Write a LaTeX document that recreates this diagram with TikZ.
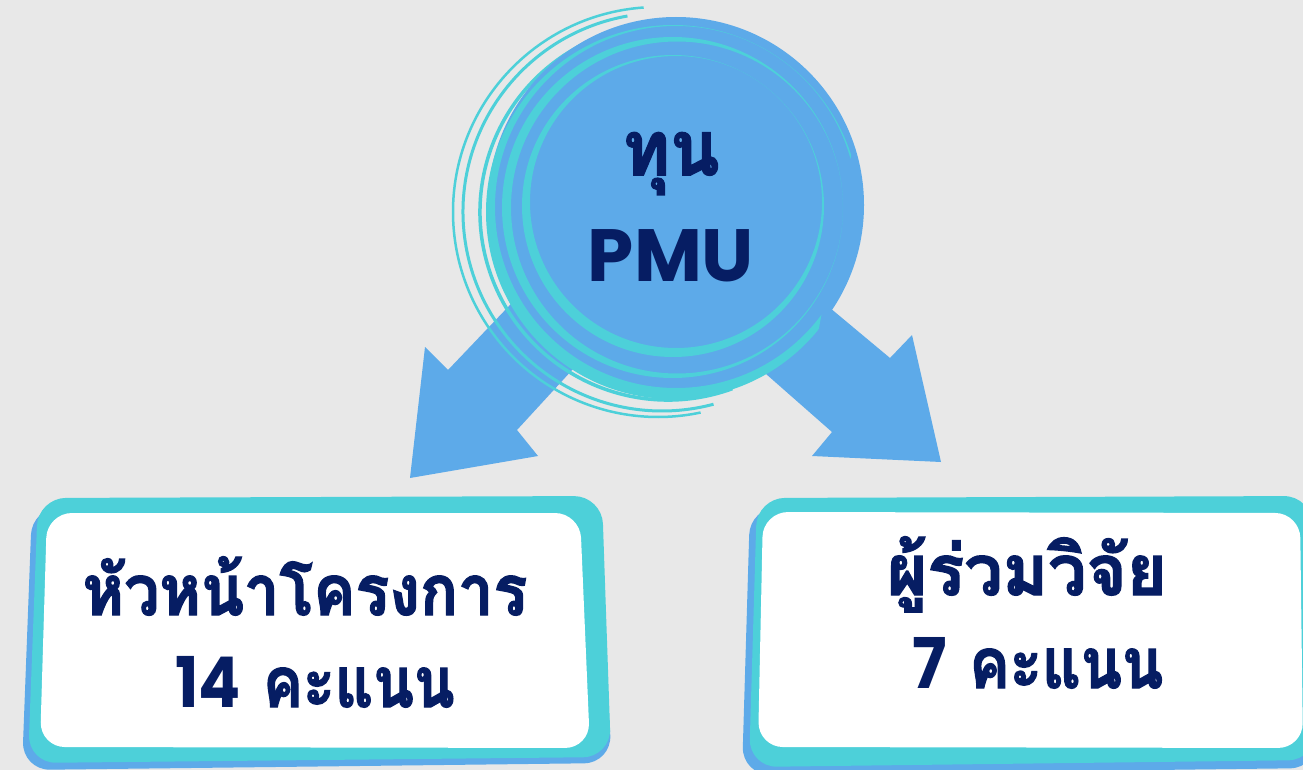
\documentclass[tikz,border=0pt]{standalone}
\usepackage{fontspec}
\newfontfamily\thaifont[Script=Thai, FakeBold=2]{Loma}
\newfontfamily\latfont{Poppins}
\definecolor{bg}{HTML}{E8E8E8}
\definecolor{blueA}{HTML}{5DAAE9}
\definecolor{cyanA}{HTML}{4DD0D9}
\definecolor{navy}{HTML}{061D63}
\tikzset{
  txt/.style={text=navy, inner sep=0pt, anchor=base},
  thin arc/.style={draw=cyanA, line cap=butt},
}
\newcommand{\thaitxt}[2]{\scalebox{#1}[1]{\thaifont\bfseries #2}}
\newcommand{\lattxt}[2]{\scalebox{#1}[1]{\latfont\bfseries #2}}
\begin{document}
\begin{tikzpicture}[x=1pt,y=-1pt]
\fill[bg] (0,0) rectangle (1303,770);
\useasboundingbox (0,0) rectangle (1303,770);

% arrows
\fill[blueA] (609,201) -- (448,370) -- (425,347) -- (410,478) -- (538,456) -- (517,430) -- (710,220) -- cycle;
\fill[blueA] (703,202) -- (890,358) -- (912,335) -- (941,462) -- (812,456) -- (832,432) -- (650,272) -- cycle;

% thin outer arcs
\draw[thin arc, line width=2.5pt] (658,212) ++(266:205) arc[start angle=266, end angle=78, radius=205];
\draw[thin arc, line width=3pt] (662,212) ++(260:199) arc[start angle=260, end angle=75, radius=199];
\draw[thin arc, line width=3.5pt] (668,212) ++(250:188) arc[start angle=250, end angle=70, radius=188];

% disc
\fill[blueA] (676,205) circle[radius=188];

% ring 3 (edge band)
\begin{scope}
\clip (0,0) -- (880,0) -- (800,430) -- (0,430) -- cycle;
\fill[cyanA, even odd rule] (673,212) circle[radius=187] (676,207) circle[radius=181];
\end{scope}
% ring 2
\fill[cyanA, even odd rule] (672.5,207.5) circle[radius=170.5] (677,207.5) circle[radius=166];
% ring 1
\fill[cyanA, even odd rule] (673,206) circle[radius=151] (676,202) circle[radius=146];

% circle text
\node[txt, font=\fontsize{76}{90}\selectfont] (tun) at (671,175) {\thaitxt{0.95}{ทุน}};
\node[txt, font=\fontsize{74}{88}\selectfont\latfont\bfseries] (pmu) at (671,281) {PMU};

% left box
\fill[blueA, rounded corners=28pt] (32,507) -- (596,504) -- (612,763) -- (22,770) -- cycle;
\fill[cyanA, rounded corners=28pt] (38,498) -- (602,496) -- (611,757) -- (28,763) -- cycle;
\fill[white, rounded corners=25pt] (47,513) -- (580,513) -- (590,748) -- (40,747) -- cycle;
\node[txt, font=\fontsize{70}{84}\selectfont] (l1) at (305,615) {\thaitxt{0.9}{หัวหน้าโครงการ}};
\node[txt, font=\fontsize{70}{84}\selectfont] (l2) at (315,707) {\lattxt{0.89}{14}\hspace{22pt}\thaitxt{0.85}{คะแนน}};

% right box
\fill[blueA, rounded corners=28pt] (750,507) -- (1310,504) -- (1318,768) -- (742,775) -- cycle;
\fill[cyanA, rounded corners=28pt] (757,498) -- (1312,496) -- (1316,760) -- (749,767) -- cycle;
\fill[white, rounded corners=25pt] (763,512) -- (1300,513) -- (1303,748) -- (758,747) -- cycle;
\node[txt, font=\fontsize{70}{84}\selectfont] (r1) at (1027,595) {\thaitxt{0.98}{ผู้ร่วมวิจัย}};
\node[txt, font=\fontsize{70}{84}\selectfont] (r2) at (1038,688) {\lattxt{0.92}{7}\hspace{22pt}\thaitxt{0.86}{คะแนน}};
\end{tikzpicture}
\end{document}
